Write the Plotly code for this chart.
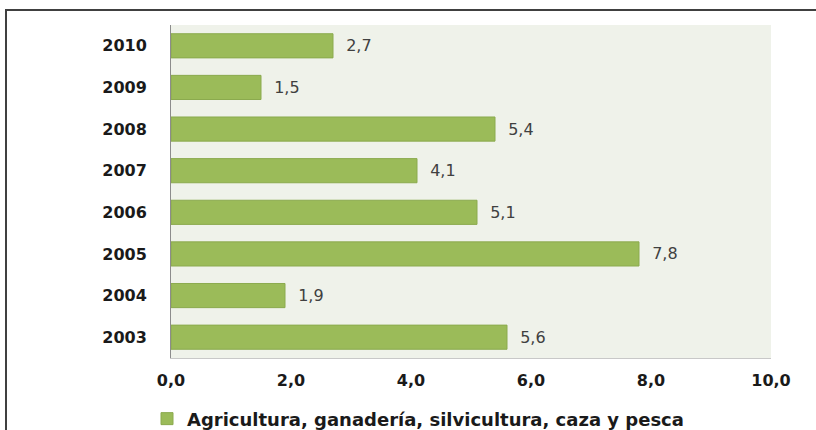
import plotly.graph_objects as go

# Annual values by year (%), sector series
years = ["2003", "2004", "2005", "2006", "2007", "2008", "2009", "2010"]
values = [5.6, 1.9, 7.8, 5.1, 4.1, 5.4, 1.5, 2.7]
series_name = "Agricultura, ganadería, silvicultura, caza y pesca"
x_ticks = [0, 2, 4, 6, 8, 10]

FONT = "DejaVu Sans"

fig = go.Figure()
fig.add_trace(go.Bar(
    x=values,
    y=years,
    orientation="h",
    name=series_name,
    marker=dict(color="#9BBB59", line=dict(color="#8BAA4E", width=1)),
    texttemplate="\u00a0\u00a0%{x:.1f}",
    textposition="outside",
    textfont=dict(family=FONT, size=16, color="#404040"),
    cliponaxis=False,
    showlegend=True,
))

fig.update_layout(
    width=816,
    height=430,
    margin=dict(l=171, r=45, t=25, b=72, autoexpand=False),
    paper_bgcolor="white",
    plot_bgcolor="#EFF2EA",
    separators=",.",
    bargap=0.42,
    font=dict(family=FONT, color="#1a1a1a"),
    xaxis=dict(
        range=[0, 10],
        tickvals=x_ticks,
        tickformat=".1f",
        showgrid=False,
        zeroline=False,
        showline=True,
        linecolor="#C8C8C8",
        linewidth=1,
        ticks="",
        ticklabelstandoff=8,
        tickfont=dict(family=FONT, size=16, color="#1a1a1a", weight="bold"),
        fixedrange=True,
    ),
    yaxis=dict(
        type="category",
        categoryorder="array",
        categoryarray=years,
        showgrid=False,
        zeroline=False,
        showline=True,
        linecolor="#8C8C8C",
        linewidth=1,
        ticks="",
        ticklabelstandoff=20,
        tickfont=dict(family=FONT, size=16, color="#1a1a1a", weight="bold"),
        fixedrange=True,
    ),
    legend=dict(
        orientation="h",
        x=-0.04,
        y=-0.183,
        xanchor="left",
        yanchor="middle",
        font=dict(family=FONT, size=18, color="#1a1a1a", weight="bold"),
        bgcolor="rgba(0,0,0,0)",
    ),
    shapes=[
        dict(
            type="path",
            xref="paper",
            yref="paper",
            path="M -0.275,-0.3 L -0.275,1.045 L 1.1,1.045",
            line=dict(color="#404040", width=2),
        )
    ],
)

fig.write_html("out.html")
